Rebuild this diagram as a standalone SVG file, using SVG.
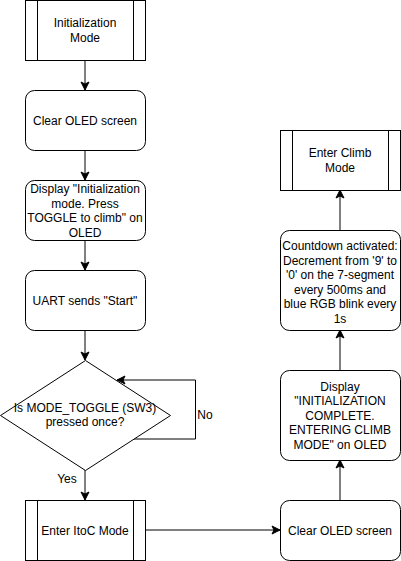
<svg xmlns="http://www.w3.org/2000/svg" width="401" height="561" viewBox="0 0 401 561">
<defs>
<style>
.b{fill:#fff;stroke:#000;stroke-width:1}
.l{fill:none;stroke:#000;stroke-width:1}
.e{fill:none;stroke:#000;stroke-width:1;marker-end:url(#ah)}
text{font-family:"Liberation Sans",Arial,sans-serif;font-size:12px;fill:#000;text-anchor:middle}
</style>
<marker id="ah" markerUnits="userSpaceOnUse" markerWidth="10" markerHeight="10" viewBox="0 0 10 10" refX="9" refY="5" orient="auto">
<path d="M1,1 L9,5 L1,9 L3,5 z" fill="#000" stroke="#000" stroke-width="1"/>
</marker>
</defs>
<rect width="401" height="561" fill="#fff"/>
<g id="connectors">
<path class="e" d="M85,60.5 V90"/>
<path class="e" d="M85,150 V180"/>
<path class="e" d="M85,240 V270"/>
<path class="e" d="M85,330 V360"/>
<path class="e" d="M130,439 H195.5 V380 H117"/>
<path class="e" d="M85,470 V500"/>
<path class="e" d="M145,530 H280"/>
<path class="e" d="M340,500 V460"/>
<path class="e" d="M340,370 V330"/>
<path class="e" d="M340,230 V190"/>
<text x="205" y="419">No</text>
<text x="67" y="483">Yes</text>
</g>
<g id="n1">
<rect class="b" x="25.5" y="0.5" width="120" height="60"/>
<path class="l" d="M37.5,0.5 V60.5 M133.5,0.5 V60.5"/>
<text x="85" y="27">Initialization</text>
<text x="85" y="42">Mode</text>
</g>
<g id="n2">
<rect class="b" x="25.5" y="90.5" width="120" height="60" rx="9"/>
<text x="85" y="124.5">Clear OLED screen</text>
</g>
<g id="n3">
<rect class="b" x="25.5" y="180.5" width="120" height="60" rx="9"/>
<text x="85" y="193">Display "Initialization</text>
<text x="85" y="207.5">mode. Press</text>
<text x="85" y="222">TOGGLE to climb" on</text>
<text x="85" y="236.5">OLED</text>
</g>
<g id="n4">
<rect class="b" x="25.5" y="270.5" width="120" height="60" rx="9"/>
<text x="85" y="304.5">UART sends "Start"</text>
</g>
<g id="n5">
<path class="b" d="M85.5,360.5 L170.5,415.5 L85.5,470.5 L0.5,415.5 Z"/>
<text x="85" y="412">Is MODE_TOGGLE (SW3)</text>
<text x="85" y="426">pressed once?</text>
</g>
<g id="n6">
<rect class="b" x="25.5" y="500.5" width="120" height="60"/>
<path class="l" d="M37.5,500.5 V560.5 M133.5,500.5 V560.5"/>
<text x="85" y="534.5">Enter ItoC Mode</text>
</g>
<g id="n7">
<rect class="b" x="280.5" y="500.5" width="120" height="60" rx="9"/>
<text x="340" y="534.5">Clear OLED screen</text>
</g>
<g id="n8">
<rect class="b" x="280.5" y="370.5" width="120" height="90" rx="9"/>
<text x="340" y="390.5">Display</text>
<text x="340" y="405">"INITIALIZATION</text>
<text x="340" y="419.5">COMPLETE.</text>
<text x="340" y="434">ENTERING CLIMB</text>
<text x="340" y="448.5">MODE" on OLED</text>
</g>
<g id="n9">
<rect class="b" x="280.5" y="230.5" width="120" height="100" rx="9"/>
<text x="340" y="250">Countdown activated:</text>
<text x="340" y="264.5">Decrement from '9' to</text>
<text x="340" y="279">'0' on the 7-segment</text>
<text x="340" y="293.5">every 500ms and</text>
<text x="340" y="308">blue RGB blink every</text>
<text x="340" y="322.5">1s</text>
</g>
<g id="n10">
<rect class="b" x="280.5" y="130.5" width="120" height="60"/>
<path class="l" d="M292.5,130.5 V190.5 M388.5,130.5 V190.5"/>
<text x="340" y="157">Enter Climb</text>
<text x="340" y="172">Mode</text>
</g>
</svg>
